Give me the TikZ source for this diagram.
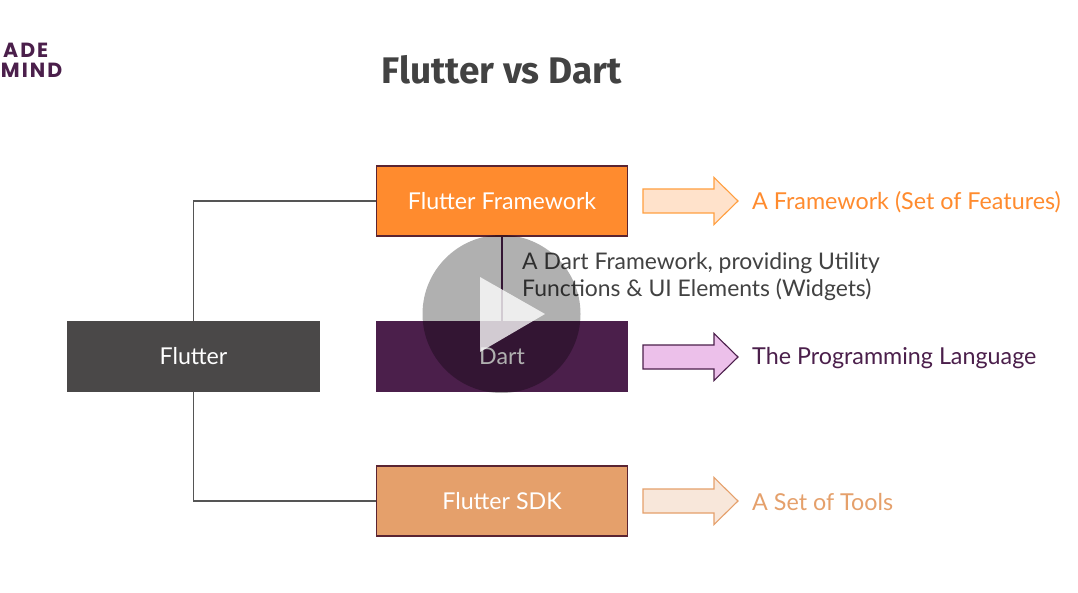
\documentclass[tikz,border=0pt]{standalone}
\usepackage{fontspec}
\setmainfont{Lato}
\newfontfamily\titlefont{Fira Sans}
\newfontfamily\logofont{Poppins}
\definecolor{cOrange}{HTML}{FF8B2E}
\definecolor{cSand}{HTML}{E5A06B}
\definecolor{cPurple}{HTML}{4B1F4B}
\definecolor{cGrey}{HTML}{4A4848}
\definecolor{cEdge}{HTML}{5A2432}
\definecolor{cText}{HTML}{424242}
\definecolor{cLine}{HTML}{555555}
\tikzset{
  x=1pt,y=-1pt,
  boxnode/.style={draw=#1,minimum width=251.5pt,minimum height=70pt,inner sep=0pt,text=white,font=\fontsize{23.2}{26}\selectfont,line width=1.1pt},
  link/.style={draw=cLine,line width=1.1pt},
  bigarrow/.style={line width=1.1pt,line join=miter},
  rowlabel/.style={anchor=west,inner sep=0pt,font=\fontsize{23.3}{26}\selectfont},
  logotext/.style={anchor=east,inner sep=0pt,text=cPurple,font=\logofont\fontsize{20.5}{20}\bfseries\addfontfeature{LetterSpace=10}\selectfont}
}
\begin{document}
\begin{tikzpicture}
\useasboundingbox (0,0) rectangle (1078,593);
\fill[white] (0,0) rectangle (1078,593);
\node[logotext] (logoa) at (48.5,50) {ADE};
\node[logotext] (logob) at (62.5,70) {MIND};
\node[text=cText,inner sep=0pt,font=\titlefont\fontsize{37}{40}\bfseries\selectfont] (title) at (501.5,70) {Flutter vs Dart};

\node[boxnode=cEdge,fill=cOrange] (fw) at (502,201) {Flutter Framework};
\node[boxnode=cPurple,fill=cPurple] (dart) at (502,356.5) {Dart};
\node[boxnode=cEdge,fill=cSand] (sdk) at (502,501) {Flutter SDK};
\node[boxnode=cGrey,fill=cGrey] (flutter) at (193.5,356.5) {Flutter};

\draw[link] (flutter.north) |- (fw.west);
\draw[link] (flutter.south) |- (sdk.west);
\draw[draw=cPurple,line width=1.5pt] (fw.south) -- (dart.north);

\draw[bigarrow,draw=orange!75!white,fill=cOrange!25!white]
  (643,189) -- (714,189) -- (714,177.5) -- (738,201) -- (714,224.5) -- (714,213) -- (643,213) -- cycle;
\draw[bigarrow,draw=cPurple,fill={rgb,255:red,236;green,192;blue,234}]
  (643,345) -- (714,345) -- (714,333.5) -- (738,357) -- (714,380.5) -- (714,369) -- (643,369) -- cycle;
\draw[bigarrow,draw=cSand,fill=cSand!25!white]
  (643,489) -- (714,489) -- (714,477.5) -- (738,501) -- (714,524.5) -- (714,513) -- (643,513) -- cycle;

\node[rowlabel,text=cOrange] (l1) at (752,202) {A Framework (Set of Features)};
\node[rowlabel,text=cPurple] (l2) at (752,358) {The Programming Language};
\node[rowlabel,text=cSand] (l3) at (752,502) {A Set of Tools};
\node[rowlabel,text=cText,align=left,font=\fontsize{22.9}{27}\selectfont] (desc) at (522,276.5) {A Dart Framework, providing Utility\\Functions \& UI Elements (Widgets)};

\fill[black,fill opacity=.31] (501.5,314) circle (79);
\fill[white,fill opacity=.78] (480,277) -- (545,314) -- (480,352) -- cycle;
\end{tikzpicture}
\end{document}
